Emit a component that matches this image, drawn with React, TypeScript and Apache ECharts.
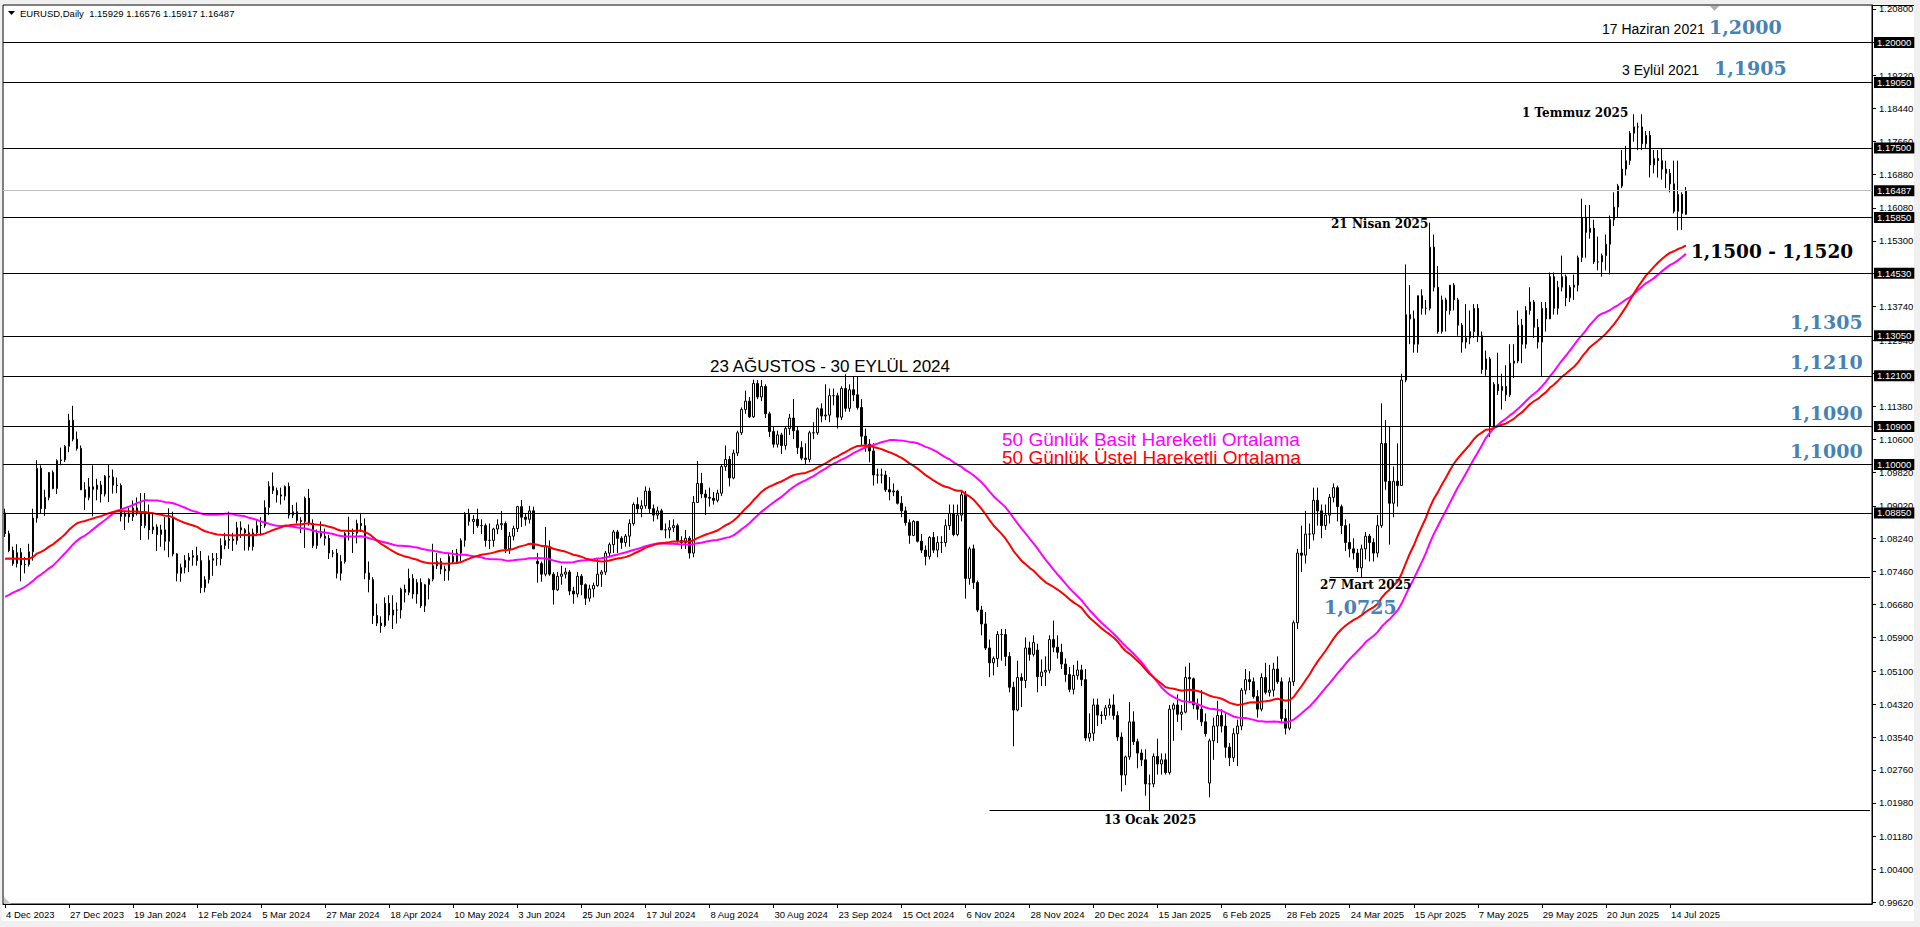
import React, { useEffect, useRef } from "react";
import * as echarts from "echarts";

// Daily EURUSD bars, each [open, high, low, close]
const dec2023 = [
  [1.0885,1.0895,1.0828,1.0836],[1.0836,1.0843,1.0792,1.0796],[1.0796,1.0805,1.0760,1.0765],[1.0765,1.0811,1.0756,1.0791],[1.0791,1.0802,1.0723,1.0762],
  [1.0762,1.0781,1.0742,1.0763],[1.0763,1.0812,1.0758,1.0793],[1.0793,1.0895,1.0772,1.0873],[1.0873,1.1010,1.0862,1.0991],[1.0991,1.0998,1.0885,1.0895],
  [1.0895,1.0940,1.0878,1.0922],[1.0922,1.0982,1.0915,1.0981],[1.0981,1.0986,1.0941,1.0943],[1.0943,1.1012,1.0930,1.1009],[1.1009,1.1040,1.0998,1.1011],
  [1.1011,1.1046,1.1006,1.1043],[1.1043,1.1120,1.1029,1.1105],[1.1105,1.1139,1.1055,1.1060],[1.1060,1.1078,1.1033,1.1038],
];
const jan2024 = [
  [1.1038,1.1045,1.0939,1.0940],[1.0940,1.0958,1.0892,1.0922],[1.0922,1.0968,1.0915,1.0947],[1.0947,1.0998,1.0877,1.0941],
  [1.0941,1.0966,1.0915,1.0951],[1.0951,1.0961,1.0910,1.0930],[1.0930,1.0975,1.0924,1.0972],[1.0972,1.1000,1.0911,1.0970],[1.0970,1.0988,1.0931,1.0951],
  [1.0951,1.0969,1.0932,1.0950],[1.0950,1.0955,1.0865,1.0877],[1.0877,1.0890,1.0845,1.0883],[1.0883,1.0898,1.0862,1.0876],[1.0876,1.0915,1.0866,1.0897],
  [1.0897,1.0922,1.0879,1.0886],[1.0886,1.0932,1.0821,1.0855],[1.0855,1.0932,1.0849,1.0885],[1.0885,1.0905,1.0822,1.0845],[1.0845,1.0886,1.0835,1.0852],
  [1.0852,1.0858,1.0795,1.0834],[1.0834,1.0857,1.0805,1.0845],[1.0845,1.0875,1.0796,1.0818],
];
const feb2024 = [
  [1.0818,1.0896,1.0780,1.0873],[1.0873,1.0888,1.0782,1.0788],
  [1.0788,1.0790,1.0723,1.0742],[1.0742,1.0765,1.0722,1.0756],[1.0756,1.0785,1.0742,1.0773],[1.0773,1.0790,1.0745,1.0780],[1.0780,1.0797,1.0760,1.0784],
  [1.0784,1.0805,1.0760,1.0772],[1.0772,1.0795,1.0695,1.0708],[1.0708,1.0735,1.0697,1.0727],[1.0727,1.0784,1.0718,1.0773],[1.0773,1.0790,1.0736,1.0777],
  [1.0777,1.0790,1.0760,1.0777],[1.0777,1.0825,1.0761,1.0808],[1.0808,1.0838,1.0799,1.0820],[1.0820,1.0888,1.0800,1.0823],[1.0823,1.0838,1.0795,1.0820],
  [1.0820,1.0864,1.0810,1.0850],[1.0850,1.0865,1.0826,1.0845],[1.0845,1.0849,1.0796,1.0838],[1.0838,1.0858,1.0796,1.0805],
];
const mar2024 = [
  [1.0805,1.0848,1.0796,1.0838],
  [1.0838,1.0868,1.0830,1.0855],[1.0855,1.0875,1.0832,1.0855],[1.0855,1.0915,1.0850,1.0898],[1.0898,1.0960,1.0880,1.0948],[1.0948,1.0981,1.0930,1.0938],
  [1.0938,1.0945,1.0910,1.0928],[1.0928,1.0945,1.0905,1.0925],[1.0925,1.0950,1.0915,1.0948],[1.0948,1.0957,1.0872,1.0880],[1.0880,1.0904,1.0873,1.0888],
  [1.0888,1.0910,1.0860,1.0867],[1.0867,1.0875,1.0837,1.0865],[1.0865,1.0924,1.0802,1.0920],[1.0920,1.0942,1.0855,1.0860],[1.0860,1.0870,1.0802,1.0808],
  [1.0808,1.0846,1.0800,1.0838],[1.0838,1.0865,1.0825,1.0830],[1.0830,1.0848,1.0808,1.0825],[1.0825,1.0833,1.0776,1.0790],[1.0790,1.0797,1.0780,1.0790],
];
const apr2024 = [
  [1.0790,1.0800,1.0730,1.0742],[1.0742,1.0785,1.0725,1.0770],[1.0770,1.0840,1.0765,1.0836],[1.0836,1.0876,1.0820,1.0836],[1.0836,1.0848,1.0790,1.0837],
  [1.0837,1.0869,1.0813,1.0860],[1.0860,1.0885,1.0840,1.0855],[1.0855,1.0872,1.0728,1.0743],[1.0743,1.0770,1.0697,1.0727],[1.0727,1.0733,1.0622,1.0642],
  [1.0642,1.0670,1.0617,1.0624],[1.0624,1.0640,1.0601,1.0618],[1.0618,1.0685,1.0615,1.0671],[1.0671,1.0690,1.0630,1.0643],[1.0643,1.0690,1.0610,1.0655],
  [1.0655,1.0673,1.0623,1.0655],[1.0655,1.0708,1.0635,1.0704],[1.0704,1.0715,1.0673,1.0697],[1.0697,1.0753,1.0690,1.0730],[1.0730,1.0740,1.0682,1.0693],
  [1.0693,1.0728,1.0670,1.0720],[1.0720,1.0730,1.0660,1.0665],
];
const may2024 = [
  [1.0665,1.0717,1.0650,1.0715],[1.0715,1.0730,1.0680,1.0728],[1.0728,1.0812,1.0723,1.0760],
  [1.0760,1.0790,1.0752,1.0770],[1.0770,1.0778,1.0740,1.0752],[1.0752,1.0760,1.0724,1.0748],[1.0748,1.0790,1.0725,1.0782],[1.0782,1.0797,1.0765,1.0770],
  [1.0770,1.0800,1.0765,1.0790],[1.0790,1.0825,1.0770,1.0820],[1.0820,1.0887,1.0805,1.0882],[1.0882,1.0895,1.0855,1.0865],[1.0865,1.0880,1.0835,1.0870],
  [1.0870,1.0895,1.0850,1.0855],[1.0855,1.0870,1.0835,1.0855],[1.0855,1.0860,1.0805,1.0820],[1.0820,1.0860,1.0800,1.0820],[1.0820,1.0850,1.0805,1.0847],
  [1.0847,1.0870,1.0835,1.0857],[1.0857,1.0890,1.0845,1.0860],[1.0860,1.0865,1.0790,1.0800],[1.0800,1.0840,1.0788,1.0830],[1.0830,1.0855,1.0820,1.0848],
];
const jun2024 = [
  [1.0848,1.0902,1.0840,1.0900],[1.0900,1.0916,1.0852,1.0875],[1.0875,1.0885,1.0855,1.0870],[1.0870,1.0902,1.0860,1.0890],[1.0890,1.0900,1.0800,1.0800],
  [1.0770,1.0790,1.0720,1.0765],[1.0765,1.0770,1.0722,1.0740],[1.0740,1.0852,1.0735,1.0805],[1.0805,1.0820,1.0736,1.0740],[1.0740,1.0745,1.0668,1.0703],
  [1.0703,1.0745,1.0700,1.0735],[1.0735,1.0760,1.0715,1.0740],[1.0740,1.0755,1.0730,1.0745],[1.0745,1.0750,1.0690,1.0700],[1.0700,1.0710,1.0670,1.0693],
  [1.0693,1.0745,1.0685,1.0735],[1.0735,1.0740,1.0690,1.0715],[1.0715,1.0718,1.0667,1.0683],[1.0683,1.0715,1.0675,1.0705],[1.0705,1.0720,1.0685,1.0713],
];
const jul2024 = [
  [1.0713,1.0776,1.0710,1.0740],[1.0740,1.0750,1.0710,1.0745],[1.0745,1.0795,1.0738,1.0790],[1.0790,1.0815,1.0780,1.0810],[1.0810,1.0845,1.0790,1.0840],
  [1.0840,1.0845,1.0790,1.0825],[1.0825,1.0830,1.0800,1.0815],[1.0815,1.0835,1.0805,1.0830],[1.0830,1.0870,1.0805,1.0860],[1.0860,1.0910,1.0855,1.0905],
  [1.0905,1.0922,1.0885,1.0895],[1.0895,1.0915,1.0875,1.0902],[1.0902,1.0948,1.0895,1.0937],[1.0937,1.0945,1.0885,1.0895],[1.0895,1.0905,1.0865,1.0880],
  [1.0880,1.0900,1.0870,1.0890],[1.0890,1.0895,1.0845,1.0845],[1.0845,1.0860,1.0825,1.0845],[1.0845,1.0868,1.0825,1.0850],[1.0850,1.0870,1.0840,1.0855],
  [1.0855,1.0860,1.0815,1.0820],[1.0820,1.0830,1.0800,1.0815],[1.0815,1.0845,1.0800,1.0825],
];
const aug2024 = [
  [1.0825,1.0830,1.0777,1.0790],[1.0790,1.0925,1.0780,1.0910],
  [1.0910,1.1008,1.0910,1.0955],[1.0955,1.0980,1.0920,1.0930],[1.0930,1.0940,1.0880,1.0922],[1.0922,1.0945,1.0900,1.0920],[1.0920,1.0935,1.0905,1.0915],
  [1.0915,1.0940,1.0910,1.0932],[1.0932,1.1000,1.0925,1.0995],[1.0995,1.1045,1.0985,1.1012],[1.1012,1.1020,1.0948,1.0968],[1.0968,1.1035,1.0965,1.1027],
  [1.1027,1.1080,1.1020,1.1075],[1.1075,1.1135,1.1070,1.1130],[1.1130,1.1175,1.1120,1.1150],[1.1150,1.1160,1.1110,1.1113],[1.1113,1.1201,1.1110,1.1192],
  [1.1192,1.1200,1.1155,1.1160],[1.1160,1.1200,1.1150,1.1185],[1.1185,1.1190,1.1110,1.1120],[1.1120,1.1125,1.1065,1.1078],[1.1078,1.1090,1.1040,1.1048],
];
const sep2024 = [
  [1.1048,1.1080,1.1040,1.1070],[1.1070,1.1075,1.1025,1.1045],[1.1045,1.1090,1.1035,1.1085],[1.1085,1.1120,1.1070,1.1110],[1.1110,1.1155,1.1060,1.1080],
  [1.1080,1.1090,1.1025,1.1040],[1.1040,1.1055,1.1010,1.1015],[1.1015,1.1050,1.1000,1.1012],[1.1012,1.1080,1.1005,1.1075],[1.1075,1.1100,1.1060,1.1075],
  [1.1075,1.1135,1.1070,1.1132],[1.1132,1.1145,1.1100,1.1115],[1.1115,1.1190,1.1105,1.1117],[1.1117,1.1180,1.1100,1.1163],[1.1163,1.1180,1.1140,1.1163],
  [1.1163,1.1170,1.1085,1.1112],[1.1112,1.1185,1.1105,1.1180],[1.1180,1.1214,1.1125,1.1133],[1.1133,1.1190,1.1125,1.1177],[1.1177,1.1209,1.1150,1.1165],
  [1.1165,1.1209,1.1130,1.1135],
];
const oct2024 = [
  [1.1135,1.1155,1.1045,1.1067],[1.1067,1.1085,1.1030,1.1048],[1.1048,1.1060,1.1005,1.1032],[1.1032,1.1050,1.0950,1.0975],
  [1.0975,1.0990,1.0955,1.0975],[1.0975,1.0990,1.0955,1.0975],[1.0975,1.0985,1.0935,1.0940],[1.0940,1.0970,1.0915,1.0935],[1.0935,1.0955,1.0925,1.0937],
  [1.0937,1.0940,1.0905,1.0908],[1.0908,1.0925,1.0875,1.0890],[1.0890,1.0900,1.0855,1.0862],[1.0862,1.0870,1.0812,1.0832],[1.0832,1.0868,1.0830,1.0865],
  [1.0865,1.0865,1.0815,1.0818],[1.0818,1.0835,1.0790,1.0797],[1.0797,1.0808,1.0761,1.0782],[1.0782,1.0830,1.0775,1.0827],[1.0827,1.0840,1.0790,1.0797],
  [1.0797,1.0830,1.0780,1.0815],[1.0815,1.0830,1.0790,1.0815],[1.0815,1.0870,1.0805,1.0855],[1.0855,1.0905,1.0845,1.0884],
];
const nov2024 = [
  [1.0884,1.0905,1.0830,1.0834],
  [1.0834,1.0905,1.0830,1.0880],[1.0880,1.0937,1.0865,1.0928],[1.0928,1.0937,1.0682,1.0730],[1.0730,1.0805,1.0715,1.0800],[1.0800,1.0810,1.0705,1.0720],
  [1.0720,1.0725,1.0650,1.0655],[1.0655,1.0665,1.0595,1.0622],[1.0622,1.0650,1.0560,1.0565],[1.0565,1.0585,1.0496,1.0530],[1.0530,1.0545,1.0500,1.0540],
  [1.0540,1.0605,1.0520,1.0597],[1.0597,1.0610,1.0535,1.0597],[1.0597,1.0610,1.0522,1.0545],[1.0545,1.0555,1.0460,1.0472],[1.0472,1.0485,1.0332,1.0418],
  [1.0418,1.0535,1.0415,1.0495],[1.0495,1.0505,1.0425,1.0488],[1.0488,1.0590,1.0470,1.0565],[1.0565,1.0580,1.0535,1.0550],[1.0550,1.0595,1.0545,1.0578],
];
const dec2024 = [
  [1.0560,1.0575,1.0460,1.0497],[1.0497,1.0538,1.0475,1.0508],[1.0508,1.0545,1.0475,1.0512],[1.0512,1.0595,1.0505,1.0585],[1.0585,1.0630,1.0555,1.0567],
  [1.0567,1.0595,1.0540,1.0555],[1.0555,1.0575,1.0515,1.0527],[1.0527,1.0540,1.0485,1.0502],[1.0502,1.0520,1.0460,1.0467],[1.0467,1.0525,1.0455,1.0500],
  [1.0500,1.0535,1.0490,1.0513],[1.0513,1.0525,1.0475,1.0490],[1.0490,1.0515,1.0345,1.0352],[1.0352,1.0410,1.0343,1.0363],[1.0363,1.0445,1.0345,1.0430],
  [1.0430,1.0445,1.0380,1.0406],[1.0406,1.0415,1.0385,1.0405],[1.0405,1.0430,1.0395,1.0423],[1.0423,1.0445,1.0405,1.0430],
  [1.0430,1.0455,1.0395,1.0405],[1.0405,1.0415,1.0345,1.0354],
];
const jan2025 = [
  [1.0354,1.0365,1.0225,1.0264],[1.0264,1.0310,1.0240,1.0307],
  [1.0307,1.0437,1.0300,1.0390],[1.0390,1.0415,1.0335,1.0343],[1.0343,1.0350,1.0280,1.0316],[1.0316,1.0325,1.0285,1.0300],[1.0300,1.0325,1.0215,1.0243],
  [1.0243,1.0265,1.0178,1.0243],[1.0243,1.0315,1.0235,1.0308],[1.0308,1.0350,1.0265,1.0290],[1.0290,1.0315,1.0265,1.0300],[1.0300,1.0315,1.0265,1.0270],
  [1.0270,1.0430,1.0265,1.0420],[1.0420,1.0435,1.0345,1.0430],[1.0430,1.0455,1.0390,1.0408],[1.0408,1.0430,1.0370,1.0413],[1.0413,1.0521,1.0410,1.0495],
  [1.0495,1.0530,1.0435,1.0492],[1.0492,1.0495,1.0420,1.0430],[1.0430,1.0445,1.0395,1.0420],[1.0420,1.0465,1.0380,1.0390],[1.0390,1.0410,1.0355,1.0362],
];
const feb2025 = [
  [1.0245,1.0350,1.0211,1.0345],[1.0345,1.0400,1.0300,1.0380],[1.0380,1.0440,1.0340,1.0405],[1.0405,1.0420,1.0365,1.0380],[1.0380,1.0410,1.0305,1.0330],
  [1.0330,1.0340,1.0285,1.0305],[1.0305,1.0375,1.0295,1.0362],[1.0362,1.0395,1.0285,1.0380],[1.0380,1.0470,1.0370,1.0465],[1.0465,1.0515,1.0455,1.0490],
  [1.0490,1.0510,1.0465,1.0485],[1.0485,1.0495,1.0445,1.0450],[1.0450,1.0465,1.0400,1.0420],[1.0420,1.0505,1.0415,1.0495],[1.0495,1.0530,1.0455,1.0460],
  [1.0460,1.0525,1.0450,1.0465],[1.0465,1.0530,1.0450,1.0515],[1.0515,1.0545,1.0480,1.0485],[1.0485,1.0495,1.0390,1.0398],[1.0398,1.0420,1.0360,1.0375],
];
const mar2025 = [
  [1.0375,1.0495,1.0370,1.0485],[1.0485,1.0630,1.0475,1.0625],[1.0625,1.0800,1.0610,1.0790],[1.0790,1.0855,1.0745,1.0785],[1.0785,1.0890,1.0765,1.0835],
  [1.0835,1.0860,1.0800,1.0835],[1.0835,1.0945,1.0820,1.0915],[1.0915,1.0945,1.0855,1.0890],[1.0890,1.0905,1.0825,1.0855],[1.0855,1.0905,1.0845,1.0880],
  [1.0880,1.0930,1.0860,1.0922],[1.0922,1.0955,1.0910,1.0945],[1.0945,1.0950,1.0865,1.0900],[1.0900,1.0905,1.0835,1.0855],[1.0855,1.0870,1.0795,1.0815],
  [1.0815,1.0860,1.0780,1.0800],[1.0800,1.0825,1.0775,1.0790],[1.0790,1.0800,1.0745,1.0755],[1.0755,1.0810,1.0733,1.0800],[1.0800,1.0840,1.0775,1.0830],
  [1.0830,1.0835,1.0770,1.0815],
];
const apr2025 = [
  [1.0815,1.0825,1.0770,1.0790],[1.0790,1.0880,1.0780,1.0855],[1.0855,1.1145,1.0850,1.1050],[1.1050,1.1105,1.0940,1.0960],
  [1.0960,1.1090,1.0810,1.0908],[1.0908,1.0995,1.0875,1.0960],[1.0960,1.1050,1.0900,1.0950],[1.0950,1.1215,1.0950,1.1200],[1.1200,1.1474,1.1195,1.1355],
  [1.1355,1.1425,1.1285,1.1345],[1.1345,1.1365,1.1265,1.1285],[1.1285,1.1400,1.1265,1.1400],[1.1400,1.1415,1.1355,1.1370],[1.1370,1.1390,1.1355,1.1370],
  [1.1370,1.1573,1.1365,1.1515],[1.1515,1.1545,1.1410,1.1420],[1.1420,1.1470,1.1310,1.1315],[1.1315,1.1400,1.1310,1.1390],[1.1390,1.1395,1.1315,1.1365],
  [1.1365,1.1425,1.1355,1.1425],[1.1425,1.1430,1.1365,1.1390],[1.1390,1.1395,1.1305,1.1330],
];
const may2025 = [
  [1.1330,1.1335,1.1265,1.1290],[1.1290,1.1380,1.1275,1.1300],
  [1.1300,1.1365,1.1285,1.1315],[1.1315,1.1380,1.1300,1.1370],[1.1370,1.1380,1.1290,1.1305],[1.1305,1.1315,1.1215,1.1225],[1.1225,1.1270,1.1210,1.1250],
  [1.1250,1.1255,1.1065,1.1090],[1.1090,1.1195,1.1085,1.1190],[1.1190,1.1265,1.1165,1.1175],[1.1175,1.1215,1.1130,1.1185],[1.1185,1.1235,1.1150,1.1165],
  [1.1165,1.1285,1.1160,1.1240],[1.1240,1.1285,1.1205,1.1245],[1.1245,1.1365,1.1240,1.1330],[1.1330,1.1345,1.1240,1.1285],[1.1285,1.1375,1.1275,1.1365],
  [1.1365,1.1420,1.1355,1.1385],[1.1385,1.1390,1.1300,1.1325],[1.1325,1.1345,1.1275,1.1290],[1.1290,1.1385,1.1210,1.1370],[1.1370,1.1385,1.1315,1.1345],
];
const jun2025 = [
  [1.1345,1.1455,1.1345,1.1445],[1.1445,1.1455,1.1355,1.1370],[1.1370,1.1435,1.1355,1.1420],[1.1420,1.1495,1.1410,1.1445],[1.1445,1.1450,1.1375,1.1395],
  [1.1395,1.1425,1.1385,1.1420],[1.1420,1.1450,1.1390,1.1425],[1.1425,1.1495,1.1410,1.1490],[1.1490,1.1630,1.1480,1.1585],[1.1585,1.1615,1.1490,1.1550],
  [1.1550,1.1615,1.1535,1.1560],[1.1560,1.1580,1.1475,1.1480],[1.1480,1.1540,1.1460,1.1480],[1.1480,1.1500,1.1445,1.1495],[1.1495,1.1545,1.1460,1.1522],
  [1.1522,1.1590,1.1450,1.1580],[1.1580,1.1645,1.1565,1.1610],[1.1610,1.1665,1.1585,1.1660],[1.1660,1.1745,1.1655,1.1700],[1.1700,1.1755,1.1685,1.1720],
  [1.1720,1.1790,1.1710,1.1785],
];
const jul2025 = [
  [1.1785,1.1830,1.1765,1.1800],[1.1800,1.1810,1.1745,1.1800],[1.1800,1.1830,1.1745,1.1760],[1.1760,1.1790,1.1750,1.1780],
  [1.1780,1.1790,1.1680,1.1710],[1.1710,1.1745,1.1690,1.1725],[1.1725,1.1745,1.1680,1.1720],[1.1720,1.1750,1.1675,1.1700],[1.1700,1.1720,1.1655,1.1690],
  [1.1690,1.1700,1.1645,1.1665],[1.1665,1.1720,1.1595,1.1600],[1.1600,1.1720,1.1555,1.1640],[1.1640,1.1645,1.1556,1.1595],[1.15929,1.16576,1.15917,1.16487],
];

// closes before the first visible bar (used only to start the moving averages)
const warmupCloses = [
  1.1130,1.1225,1.1228,1.1235,1.1225,1.1200,1.1130,1.1125,1.1065,1.1055,1.1085,1.0975,1.1015,1.0995,1.0985,1.0935,1.0945,1.1005,
  1.1000,1.0955,1.0975,1.0985,1.0950,1.0905,1.0905,1.0875,1.0875,1.0870,1.0895,1.0845,1.0860,1.0810,1.0795,1.0815,1.0880,1.0845,
  1.0840,1.0775,1.0795,1.0720,1.0725,1.0695,1.0700,1.0750,1.0755,1.0730,1.0640,1.0660,1.0690,1.0680,1.0660,1.0660,1.0650,
  1.0590,1.0570,1.0500,1.0565,1.0573,1.0475,1.0467,1.0505,1.0548,1.0588,1.0565,1.0605,1.0620,1.0530,1.0510,1.0560,1.0577,1.0535,
  1.0585,1.0595,1.0670,1.0590,1.0565,1.0563,1.0565,1.0615,1.0575,1.0570,1.0620,1.0730,1.0720,1.0700,1.0710,1.0665,1.0685,1.0700,
  1.0880,1.0848,1.0850,1.0915,1.0940,1.0910,1.0885,1.0905,1.0940,1.0955,1.0995,1.0970,1.0885,1.0885,
];

const xTickLabels = [
  "4 Dec 2023","27 Dec 2023","19 Jan 2024","12 Feb 2024","5 Mar 2024","27 Mar 2024","18 Apr 2024","10 May 2024","3 Jun 2024",
  "25 Jun 2024","17 Jul 2024","8 Aug 2024","30 Aug 2024","23 Sep 2024","15 Oct 2024","6 Nov 2024","28 Nov 2024","20 Dec 2024",
  "15 Jan 2025","6 Feb 2025","28 Feb 2025","24 Mar 2025","15 Apr 2025","7 May 2025","29 May 2025","20 Jun 2025","14 Jul 2025",
];
const yTickValues = [
  1.208,1.2,1.1922,1.1844,1.1766,1.1688,1.1608,1.153,1.1452,1.1374,1.1294,1.1216,1.1138,1.106,
  1.0982,1.0902,1.0824,1.0746,1.0668,1.059,1.051,1.0432,1.0354,1.0276,1.0198,1.0118,1.004,0.9962,
];
const levelLines = [1.2, 1.1905, 1.175, 1.1585, 1.1453, 1.1305, 1.121, 1.109, 1.1, 1.0885];
const boxedValues = [1.2, 1.1905, 1.175, 1.16487, 1.1585, 1.1453, 1.1305, 1.121, 1.109, 1.1, 1.0885];
const lastPrice = 1.16487;
const marchLow = 1.0732;
const januaryLow = 1.0180;
const maPeriod = 50;

const TICK_STEP = 16;
const TOTAL_SLOTS = 467;
const SANS = "'Liberation Sans', Arial, sans-serif";
const SERIF = "'DejaVu Serif', 'Liberation Serif', serif";
const BLUE = "#4682B4";

export default function App() {
  const ref = useRef<HTMLDivElement>(null);

  useEffect(() => {
    if (!ref.current) return;
    const chart = echarts.init(ref.current, undefined, { renderer: "svg" });

    const bars = [
      ...dec2023, ...jan2024, ...feb2024, ...mar2024, ...apr2024, ...may2024, ...jun2024, ...jul2024, ...aug2024,
      ...sep2024, ...oct2024, ...nov2024, ...dec2024, ...jan2025, ...feb2025, ...mar2025, ...apr2025, ...may2025,
      ...jun2025, ...jul2025,
    ];
    const candleData = bars.map(([o, h, l, c]) => [o, c, l, h]);
    const closes = bars.map((b) => b[3]);
    const all = [...warmupCloses, ...closes];
    const w = warmupCloses.length;

    const sma: number[] = [];
    const ema: number[] = [];
    const k = 2 / (maPeriod + 1);
    let e = all[0];
    for (let j = 0; j < all.length; j++) {
      e = j === 0 ? all[0] : all[j] * k + e * (1 - k);
      if (j >= w) {
        let s = 0;
        for (let q = j - maPeriod + 1; q <= j; q++) s += all[q];
        sma.push(+(s / maPeriod).toFixed(5));
        ema.push(+e.toFixed(5));
      }
    }

    const cats = Array.from({ length: TOTAL_SLOTS }, (_, i) => String(i));
    const showTick = (i: number) => i % TICK_STEP === 0 && i / TICK_STEP < xTickLabels.length;
    const lastIdx = TOTAL_SLOTS - 1;

    const txt = (text: string, x: number, y: number, font: string, fill: string) => ({
      type: "text",
      x,
      y,
      silent: true,
      z: 100,
      style: { text, font, fill, align: "left", verticalAlign: "middle" },
    });

    const option: any = {
      animation: false,
      backgroundColor: "#ffffff",
      grid: {
        left: 3, top: 5, width: 1869, height: 899,
        show: true, borderColor: "#000", borderWidth: 1, backgroundColor: "#fff",
      },
      xAxis: {
        type: "category",
        data: cats,
        boundaryGap: true,
        axisLine: { show: true, lineStyle: { color: "#000", width: 1 } },
        axisTick: {
          show: true, alignWithLabel: true, length: 4,
          interval: (i: number) => showTick(i),
          lineStyle: { color: "#000" },
        },
        axisLabel: {
          interval: (i: number) => showTick(i),
          formatter: (_v: string, i: number) => (showTick(i) ? xTickLabels[i / TICK_STEP] : ""),
          align: "left",
          margin: 5,
          padding: [0, 0, 0, 1],
          fontSize: 9.5,
          fontFamily: SANS,
          color: "#000",
        },
        splitLine: { show: false },
      },
      yAxis: [
        {
          type: "value",
          position: "right",
          min: 0.99583,
          max: 1.20889,
          axisLine: { show: true, lineStyle: { color: "#000" } },
          axisTick: { show: true, length: 4, customValues: yTickValues, lineStyle: { color: "#000" } },
          axisLabel: {
            customValues: yTickValues,
            formatter: (v: number) => v.toFixed(5),
            fontSize: 9.5, fontFamily: SANS, color: "#000", margin: 7,
          },
          splitLine: { show: false },
        },
        {
          type: "value",
          position: "right",
          min: 0.99583,
          max: 1.20889,
          axisLine: { show: false },
          axisTick: { show: false },
          axisLabel: {
            customValues: boxedValues,
            formatter: (v: number) => v.toFixed(5),
            fontSize: 9.5, fontFamily: SANS, color: "#fff",
            backgroundColor: "#000", padding: [1, 3, 0, 3], margin: 2,
          },
          splitLine: { show: false },
        },
      ],
      series: [
        {
          type: "candlestick",
          data: candleData,
          barWidth: 2,
          silent: true,
          itemStyle: { color: "#fff", color0: "#000", borderColor: "#000", borderColor0: "#000", borderWidth: 1 },
          markLine: {
            silent: true,
            symbol: "none",
            precision: 5,
            label: { show: false },
            lineStyle: { color: "#000", width: 1, type: "solid" },
            data: [
              ...levelLines.map((v) => ({ yAxis: v })),
              { yAxis: lastPrice, lineStyle: { color: "#C0C0C0", width: 1, type: "solid" } },
              [{ coord: [331, marchLow] }, { coord: [lastIdx, marchLow] }],
              [{ coord: [246, januaryLow] }, { coord: [lastIdx, januaryLow] }],
            ],
          },
        },
        {
          type: "line", data: sma, symbol: "none", silent: true,
          lineStyle: { color: "#FF00FF", width: 2 }, itemStyle: { color: "#FF00FF" },
        },
        {
          type: "line", data: ema, symbol: "none", silent: true,
          lineStyle: { color: "#FF0000", width: 2 }, itemStyle: { color: "#FF0000" },
        },
      ],
      graphic: [
        { type: "rect", shape: { x: 0, y: 0, width: 1920, height: 4 }, style: { fill: "#F0F0F0" }, silent: true },
        { type: "rect", shape: { x: 0, y: 0, width: 2, height: 927 }, style: { fill: "#F0F0F0" }, silent: true },
        { type: "rect", shape: { x: 0, y: 921, width: 1920, height: 6 }, style: { fill: "#F0F0F0" }, silent: true },
        { type: "rect", shape: { x: 1914, y: 0, width: 6, height: 927 }, style: { fill: "#F0F0F0" }, silent: true },
        { type: "line", shape: { x1: 1872, y1: 5.5, x2: 1914, y2: 5.5 }, style: { stroke: "#000", lineWidth: 1 }, silent: true },
        { type: "polygon", shape: { points: [[1710, 6], [1719, 6], [1714.5, 11]] }, style: { fill: "#B0B0B0" }, silent: true },
        { type: "polygon", shape: { points: [[4, 897], [4, 904], [11, 904]] }, style: { fill: "#C8C8C8" }, silent: true },
        { type: "polygon", shape: { points: [[8, 11], [15, 11], [11.5, 15]] }, style: { fill: "#000" }, silent: true, z: 100 },
        txt("EURUSD,Daily  1.15929 1.16576 1.15917 1.16487", 20, 13, `9.5px ${SANS}`, "#000"),
        txt("17 Haziran 2021", 1602, 29, `14px ${SANS}`, "#000"),
        txt("1,2000", 1709, 27, `bold 19px ${SERIF}`, BLUE),
        txt("3 Eylül 2021", 1622, 70, `14px ${SANS}`, "#000"),
        txt("1,1905", 1714, 68, `bold 19px ${SERIF}`, BLUE),
        txt("1 Temmuz 2025", 1522, 113, `bold 12px ${SERIF}`, "#000"),
        txt("21 Nisan 2025", 1331, 224, `bold 12px ${SERIF}`, "#000"),
        txt("1,1500 - 1,1520", 1691, 251, `bold 18.5px ${SERIF}`, "#000"),
        txt("1,1305", 1790, 322, `bold 19px ${SERIF}`, BLUE),
        txt("1,1210", 1790, 362, `bold 19px ${SERIF}`, BLUE),
        txt("1,1090", 1790, 413, `bold 19px ${SERIF}`, BLUE),
        txt("1,1000", 1790, 451, `bold 19px ${SERIF}`, BLUE),
        txt("23 AĞUSTOS - 30 EYLÜL 2024", 710, 366, `17px ${SANS}`, "#000"),
        txt("50 Günlük Basit Hareketli Ortalama", 1002, 439, `19px ${SANS}`, "#FF00FF"),
        txt("50 Günlük Üstel Hareketli Ortalama", 1002, 457, `19px ${SANS}`, "#FF0000"),
        txt("27 Mart 2025", 1320, 585, `bold 12px ${SERIF}`, "#000"),
        txt("1,0725", 1324, 607, `bold 19px ${SERIF}`, BLUE),
        txt("13 Ocak 2025", 1104, 820, `bold 12px ${SERIF}`, "#000"),
      ],
    };

    chart.setOption(option);
    return () => chart.dispose();
  }, []);

  return (
    <div
      ref={ref}
      style={{ position: "fixed", left: 0, top: 0, width: 1920, height: 927, background: "#fff" }}
    />
  );
}
